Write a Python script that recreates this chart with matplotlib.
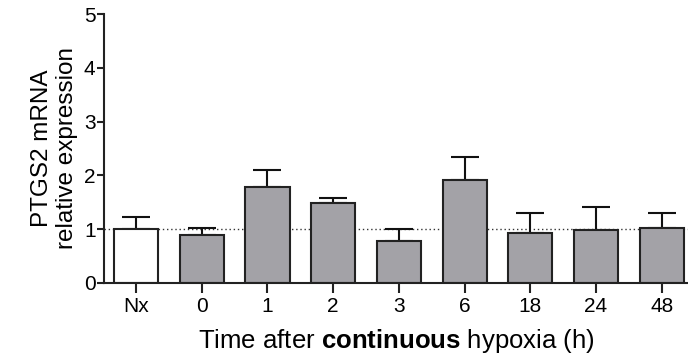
import matplotlib
matplotlib.use("Agg")
import matplotlib.pyplot as plt

plt.rcParams['font.family'] = ['Liberation Sans', 'DejaVu Sans']
plt.rcParams['mathtext.fontset'] = 'custom'
plt.rcParams['mathtext.rm'] = 'Liberation Sans'
plt.rcParams['mathtext.bf'] = 'Liberation Sans:bold'

labels = ["Nx", "0", "1", "2", "3", "6", "18", "24", "48"]
means = [1.00, 0.88, 1.78, 1.48, 0.77, 1.91, 0.92, 0.98, 1.02]
upper = [1.23, 1.02, 2.09, 1.58, 1.00, 2.35, 1.29, 1.41, 1.29]
errs = [u - m for u, m in zip(upper, means)]
colors = ["white"] + ["#a3a2a7"] * 8

fig = plt.figure(figsize=(6.88, 3.63), dpi=100)
ax = fig.add_axes([0.151, 0.221, 0.849, 0.740])

x = list(range(len(labels)))
ax.axhline(1, color="#333333", linestyle=(0, (1, 2)), linewidth=1.0, zorder=1)
ax.bar(x, means, width=0.67, color=colors, edgecolor="#222222", linewidth=1.5, zorder=2)
ax.errorbar(x, means, yerr=[[0] * len(errs), errs], fmt="none", ecolor="#111111",
            elinewidth=1.5, capsize=10, capthick=1.5, zorder=1.5)

ax.set_xlim(-0.49, 8.4)
ax.set_ylim(0, 5)
ax.set_yticks([0, 1, 2, 3, 4, 5])
ax.set_xticks(x)
ax.set_xticklabels(labels)
ax.tick_params(axis="both", labelsize=15, width=1.5, color="#222222")
ax.tick_params(axis="y", pad=1, length=5)
ax.tick_params(axis="x", pad=3, length=7)
for s in ["top", "right"]:
    ax.spines[s].set_visible(False)
for s in ["left", "bottom"]:
    ax.spines[s].set_linewidth(1.5)
    ax.spines[s].set_color("#222222")

ax.set_ylabel("PTGS2 mRNA\nrelative expression", fontsize=17.5, labelpad=4, linespacing=1.2)
ax.set_xlabel(r"Time after $\mathbf{continuous}$ hypoxia (h)", fontsize=18.5, labelpad=8)

fig.savefig("out.png", dpi=100)
